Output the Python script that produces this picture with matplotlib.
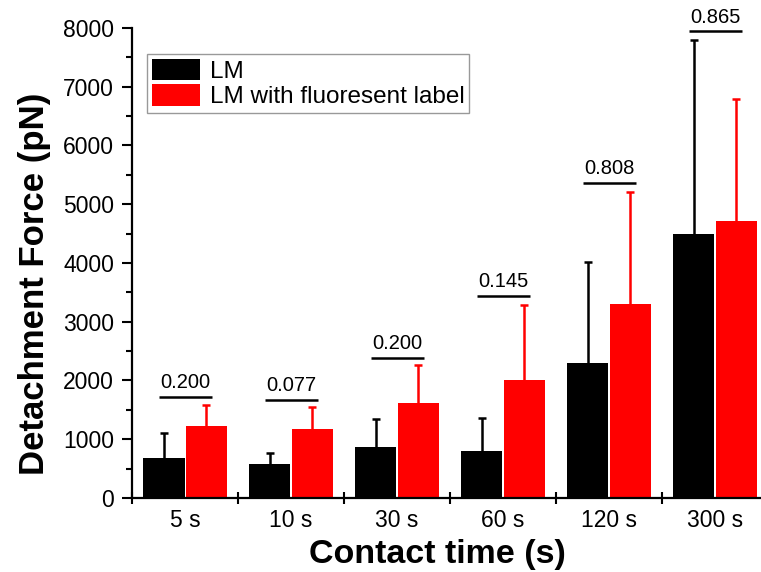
import matplotlib
matplotlib.use("Agg")
import matplotlib.pyplot as plt
import numpy as np

# data
times = ["5 s", "10 s", "30 s", "60 s", "120 s", "300 s"]
lm_mean = [680, 585, 875, 805, 2300, 4490]
lm_err = [420, 185, 465, 555, 1715, 3310]
fl_mean = [1230, 1175, 1620, 2000, 3300, 4715]
fl_err = [350, 370, 640, 1280, 1905, 2075]
p_values = ["0.200", "0.077", "0.200", "0.145", "0.808", "0.865"]
p_line_y = [1725, 1670, 2390, 3440, 5360, 7940]

plt.rcParams["font.family"] = ["Liberation Sans", "DejaVu Sans"]


def upper_err(ax, xs, mean, err, color):
    # only the upper half of the error bar, like the original
    top = np.array(mean) + np.array(err)
    ax.vlines(xs, mean, top, color=color, lw=1.8, zorder=3)
    ax.hlines(top, xs - 0.04, xs + 0.04, color=color, lw=1.8, zorder=3)


def main():
    fig = plt.figure(figsize=(7.61, 5.72), dpi=100)
    ax = fig.add_axes([0.1735, 0.1294, 0.8357, 0.8217])

    x = np.arange(len(times))
    w = 0.39
    off = 0.2

    ax.bar(x - off, lm_mean, w, color="black", label="LM", zorder=2)
    ax.bar(x + off, fl_mean, w, color="#ff0000", label="LM with fluoresent label", zorder=2)
    upper_err(ax, x - off, lm_mean, lm_err, "black")
    upper_err(ax, x + off, fl_mean, fl_err, "#ff0000")

    # p-value lines and labels
    for i in range(len(times)):
        ax.plot([x[i] - 0.25, x[i] + 0.25], [p_line_y[i], p_line_y[i]],
                color="black", lw=1.8, solid_capstyle="butt")
        ax.text(x[i], p_line_y[i] + 80, p_values[i], ha="center", va="bottom",
                fontsize=14.5)

    ax.set_xlim(-0.5, 5.5)
    ax.set_ylim(0, 8000)

    # ticks: marks at group boundaries, labels at centers
    ax.set_xticks(np.arange(-0.5, 5.6, 1.0))
    ax.set_xticklabels([])
    ax.set_xticks(x, minor=True)
    ax.set_xticklabels(times, minor=True, fontsize=16.5)
    ax.tick_params(axis="x", which="major", direction="inout", length=9, width=1.5)
    ax.tick_params(axis="x", which="minor", length=0, pad=8)

    ax.set_yticks(np.arange(0, 8001, 1000))
    ax.set_yticks(np.arange(500, 8000, 1000), minor=True)
    ax.tick_params(axis="y", which="major", direction="out", length=7, width=1.5,
                   labelsize=16.5, pad=6)
    ax.tick_params(axis="y", which="minor", direction="out", length=4, width=1.5)

    for s in ["top", "right"]:
        ax.spines[s].set_visible(False)
    for s in ["left", "bottom"]:
        ax.spines[s].set_linewidth(1.6)

    ax.set_xlabel("Contact time (s)", fontsize=24.5, fontweight="bold", va="center")
    ax.xaxis.set_label_coords(0.48, -0.12)
    ax.set_ylabel("Detachment Force (pN)", fontsize=25, fontweight="bold", va="center")
    ax.yaxis.set_label_coords(-0.154, 0.455)

    leg = ax.legend(loc="upper left", bbox_to_anchor=(0.023, 0.945), fontsize=17.5,
                    fancybox=False, edgecolor="#999999", framealpha=1,
                    handlelength=2.0, handleheight=1.0, handletextpad=0.4,
                    labelspacing=0.05, borderpad=0.2, borderaxespad=0)
    leg.get_frame().set_linewidth(1.0)

    fig.savefig("out.png", dpi=100)


if __name__ == "__main__":
    main()
